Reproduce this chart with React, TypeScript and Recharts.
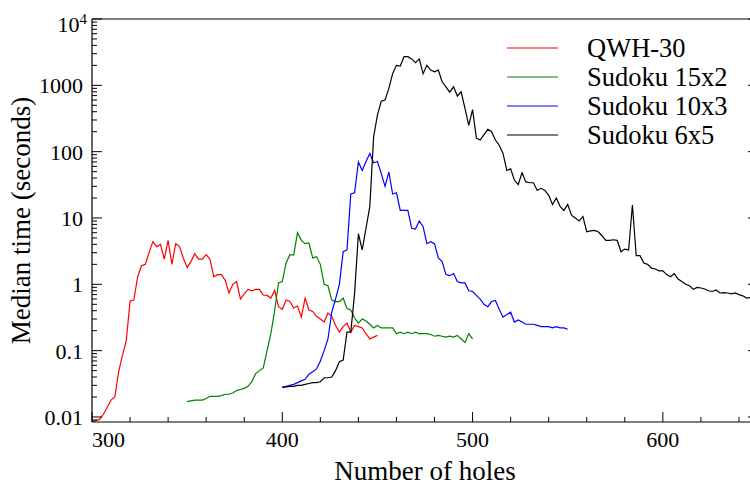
import { LineChart, Line, XAxis, YAxis } from "recharts";

// median solve times (seconds, log scale)
const qwhHoles = [
  300, 302, 304, 306, 308, 310, 312, 314, 316, 318, 320, 322, 324, 326, 328, 330, 332, 334, 336, 338,
  340, 342, 344, 346, 348, 350, 352, 354, 356, 358, 360, 362, 364, 366, 368, 370, 372, 374, 376, 378,
  380, 382, 384, 386, 388, 390, 392, 394, 396, 398, 400, 402, 404, 406, 408, 410, 412, 414, 416, 418,
  420, 422, 424, 426, 428, 430, 432, 434, 436, 438, 440, 442, 444, 446, 448, 450,
];
const qwhTime = [
  0.0085, 0.0088, 0.0092, 0.011, 0.014, 0.018, 0.02, 0.048, 0.085, 0.14,
  0.56, 0.58, 1.3, 1.9, 2.0, 3.0, 4.4, 3.7, 4.0, 2.4,
  4.6, 2.0, 4.1, 3.7, 2.5, 1.8, 2.2, 2.9, 2.4, 2.4,
  2.8, 2.4, 1.3, 1.4, 1.4, 1.15, 0.74, 1.0, 1.1, 0.6,
  0.72, 0.84, 0.8, 0.84, 0.84, 0.69, 0.68, 0.62, 0.81, 0.46,
  0.42, 0.58, 0.55, 0.44, 0.47, 0.32, 0.62, 0.41, 0.39, 0.33,
  0.3, 0.27, 0.37, 0.33, 0.24, 0.19, 0.23, 0.26, 0.19, 0.24,
  0.23, 0.22, 0.18, 0.15, 0.16, 0.17,
];

const sudoku15Holes = [
  350, 352, 354, 356, 358, 360, 362, 364, 366, 368, 370, 372, 374, 376, 378, 380, 382, 384, 386, 388,
  390, 392, 394, 396, 398, 400, 402, 404, 406, 408, 410, 412, 414, 416, 418, 420, 422, 424, 426, 428,
  430, 432, 434, 436, 438, 440, 442, 444, 446, 448, 450, 452, 454, 456, 458, 460, 462, 464, 466, 468,
  470, 472, 474, 476, 478, 480, 482, 484, 486, 488, 490, 492, 494, 496, 498, 500,
];
const sudoku15Time = [
  0.017, 0.0175, 0.018, 0.018, 0.018, 0.019, 0.0205, 0.0205, 0.0205, 0.021,
  0.022, 0.022, 0.023, 0.025, 0.026, 0.027, 0.029, 0.034, 0.045, 0.05,
  0.055, 0.1, 0.18, 0.4, 1.05, 1.1, 2.1, 2.8, 2.75, 6.0,
  4.6, 4.1, 4.2, 2.5, 2.6, 2.0, 1.0, 0.95, 0.58, 0.55,
  0.55, 0.62, 0.43, 0.41, 0.31, 0.26, 0.3, 0.28, 0.25, 0.22,
  0.24, 0.22, 0.22, 0.22, 0.22, 0.18, 0.19, 0.18, 0.19, 0.18,
  0.19, 0.18, 0.18, 0.18, 0.175, 0.165, 0.17, 0.165, 0.16, 0.165,
  0.16, 0.17, 0.15, 0.133, 0.18, 0.15,
];

const sudoku10Holes = [
  400, 402, 404, 406, 408, 410, 412, 414, 416, 418, 420, 422, 424, 426, 428, 430, 432, 434, 436, 438,
  440, 442, 444, 446, 448, 450, 452, 454, 456, 458, 460, 462, 464, 466, 468, 470, 472, 474, 476, 478,
  480, 482, 484, 486, 488, 490, 492, 494, 496, 498, 500, 502, 504, 506, 508, 510, 512, 514, 516, 518,
  520, 522, 524, 526, 528, 530, 532, 534, 536, 538, 540, 542, 544, 546, 548, 550,
];
const sudoku10Time = [
  0.028, 0.029, 0.03, 0.031, 0.033, 0.035, 0.037, 0.044, 0.048, 0.053,
  0.07, 0.1, 0.15, 0.38, 0.6, 1.0, 3.1, 3.3, 23, 24,
  70, 52, 71, 94, 68, 71, 47, 30, 49, 23,
  24, 13, 13, 13, 7, 6.8, 9, 7.4, 4.1, 4.4,
  4.1, 2.5, 2.2, 1.4, 1.35, 1.45, 1.1, 1.05, 1.05, 0.8,
  0.78, 0.68, 0.6, 0.5, 0.46, 0.55, 0.57, 0.42, 0.32, 0.35,
  0.38, 0.27, 0.29, 0.27, 0.25, 0.25, 0.25, 0.24, 0.23, 0.23,
  0.23, 0.22, 0.23, 0.22, 0.22, 0.21,
];

const sudoku6Holes = [
  400, 402, 404, 406, 408, 410, 412, 414, 416, 418, 420, 422, 424, 426, 428, 430, 432, 434, 436, 438,
  440, 442, 444, 446, 448, 450, 452, 454, 456, 458, 460, 462, 464, 466, 468, 470, 472, 474, 476, 478,
  480, 482, 484, 486, 488, 490, 492, 494, 496, 498, 500, 502, 504, 506, 508, 510, 512, 514, 516, 518,
  520, 522, 524, 526, 528, 530, 532, 534, 536, 538, 540, 542, 544, 546, 548, 550, 552, 554, 556, 558,
  560, 562, 564, 566, 568, 570, 572, 574, 576, 578, 580, 582, 584, 586, 588, 590, 592, 594, 596, 598,
  600, 602, 604, 606, 608, 610, 612, 614, 616, 618, 620, 622, 624, 626, 628, 630, 632, 634, 636, 638,
  640, 642, 644, 646,
];
const sudoku6Time = [
  0.028, 0.0285, 0.029, 0.029, 0.03, 0.03, 0.031, 0.032, 0.033, 0.033,
  0.034, 0.039, 0.039, 0.04, 0.05, 0.068, 0.072, 0.19, 0.19, 0.73,
  5.8, 3.3, 7.0, 15, 168, 355, 575, 600, 900, 1500,
  2000, 1950, 2700, 2700, 2500, 2200, 2500, 1500, 2000, 1700,
  1600, 1700, 1130, 950, 790, 950, 690, 800, 450, 250,
  430, 160, 150, 180, 217, 200, 150, 125, 94, 52,
  55, 37, 32, 48, 35, 34, 34, 26, 28, 26,
  22, 16, 20, 15, 13, 16, 11, 10, 9.0, 10.5,
  6.2, 6.4, 6.5, 6.2, 5.4, 4.6, 4.6, 4.7, 4.6, 3.1,
  3.4, 3.3, 15.7, 2.7, 2.7, 2.1, 2.0, 1.75, 1.7, 1.6,
  1.6, 1.4, 1.3, 1.45, 1.2, 1.1, 1.0, 0.95, 0.84, 0.9,
  0.88, 0.85, 0.8, 0.78, 0.82, 0.74, 0.75, 0.74, 0.72, 0.74,
  0.7, 0.67, 0.62, 0.63,
];

const xMajorTicks = [300, 400, 500, 600];
const xMinorTicks = [320, 340, 360, 380, 420, 440, 460, 480, 520, 540, 560, 580, 620, 640];
const yMajorTicks = [0.01, 0.1, 1, 10, 100, 1000, 10000];
const yMajorLabels = ["0.01", "0.1", "1", "10", "100", "1000", "10^4"];
const yMinorSteps = [2, 3, 4, 5, 6, 7, 8, 9];

const X_DOMAIN: [number, number] = [300, 650];
const Y_DOMAIN: [number, number] = [0.0084, 10000];

const FONT = "'Liberation Serif', 'Times New Roman', serif";
const MAJOR_LEN = 10;
const MINOR_LEN = 5;

const pairs = (holes: number[], times: number[]) =>
  holes.map((h, i) => ({ holes: h, time: times[i] }));

const series = [
  { name: "QWH-30", color: "#ff0000", data: pairs(qwhHoles, qwhTime) },
  { name: "Sudoku 15x2", color: "#008000", data: pairs(sudoku15Holes, sudoku15Time) },
  { name: "Sudoku 10x3", color: "#0000ff", data: pairs(sudoku10Holes, sudoku10Time) },
  { name: "Sudoku 6x5", color: "#000000", data: pairs(sudoku6Holes, sudoku6Time) },
];

const xTicks = [...xMajorTicks, ...xMinorTicks].sort((a, b) => a - b);
const yMinorTicks = [0.001, ...yMajorTicks]
  .flatMap((d) => yMinorSteps.map((m) => m * d))
  .filter((v) => v > Y_DOMAIN[0] && v < Y_DOMAIN[1]);
const yTicks = [...yMajorTicks, ...yMinorTicks].sort((a, b) => a - b);

const isMajorY = (v: number) => yMajorTicks.includes(v);

function BottomTick(p: any) {
  const v = p.payload.value;
  const major = xMajorTicks.includes(v);
  return (
    <g>
      <line x1={p.x} x2={p.x} y1={p.y} y2={p.y - (major ? MAJOR_LEN : MINOR_LEN)} stroke="#000" />
      {major && (
        <text
          x={p.x}
          y={p.y + 25}
          textAnchor={v === X_DOMAIN[0] ? "start" : "middle"}
          fontFamily={FONT}
          fontSize={22}
          fill="#000"
        >
          {v}
        </text>
      )}
    </g>
  );
}

function TopTick(p: any) {
  const major = xMajorTicks.includes(p.payload.value);
  return <line x1={p.x} x2={p.x} y1={p.y} y2={p.y + (major ? MAJOR_LEN : MINOR_LEN)} stroke="#000" />;
}

function LeftTick(p: any) {
  const v = p.payload.value;
  const major = isMajorY(v);
  const label = major ? yMajorLabels[yMajorTicks.indexOf(v)] : "";
  let text = null;
  if (label.includes("^")) {
    const [base, exp] = label.split("^");
    text = (
      <text x={p.x - 5} y={p.y + 13} textAnchor="end" fontFamily={FONT} fontSize={22} fill="#000">
        <tspan>{base}</tspan>
        <tspan dy={-8} fontSize={15}>
          {exp}
        </tspan>
      </text>
    );
  } else if (label) {
    text = (
      <text x={p.x - 9} y={p.y + 8} textAnchor="end" fontFamily={FONT} fontSize={22} fill="#000">
        {label}
      </text>
    );
  }
  return (
    <g>
      <line x1={p.x} x2={p.x + (major ? MAJOR_LEN : MINOR_LEN)} y1={p.y} y2={p.y} stroke="#000" />
      {text}
    </g>
  );
}

function RightTick(p: any) {
  const major = isMajorY(p.payload.value);
  return <line x1={p.x} x2={p.x - (major ? MAJOR_LEN : MINOR_LEN)} y1={p.y} y2={p.y} stroke="#000" />;
}

function XTitle(props: any) {
  const vb = props.viewBox || { x: 92, y: 422, width: 666, height: 64 };
  return (
    <text
      x={vb.x + vb.width / 2}
      y={vb.y + vb.height - 6}
      textAnchor="middle"
      fontFamily={FONT}
      fontSize={27}
      fill="#000"
    >
      Number of holes
    </text>
  );
}

function YTitle(props: any) {
  const vb = props.viewBox || { x: 0, y: 19, width: 92, height: 403 };
  const cx = vb.x + 30;
  const cy = vb.y + vb.height / 2;
  return (
    <text
      x={cx}
      y={cy}
      transform={`rotate(-90 ${cx} ${cy})`}
      textAnchor="middle"
      fontFamily={FONT}
      fontSize={27}
      fill="#000"
    >
      Median time (seconds)
    </text>
  );
}

const axisLine = { stroke: "#000", strokeWidth: 1.2 };

export default function App() {
  return (
    <div
      style={{
        position: "absolute",
        left: 0,
        top: 0,
        width: 750,
        height: 486,
        overflow: "hidden",
        background: "#fff",
      }}
    >
      <LineChart width={770} height={486} margin={{ top: 0, right: 0, bottom: 0, left: 0 }}>
        <XAxis
          xAxisId="bottom"
          dataKey="holes"
          type="number"
          domain={X_DOMAIN}
          allowDataOverflow
          ticks={xTicks}
          interval={0}
          tickSize={0}
          tickMargin={0}
          tickLine={false}
          tick={BottomTick}
          axisLine={axisLine}
          height={64}
          label={<XTitle />}
        />
        <XAxis
          xAxisId="top"
          orientation="top"
          type="number"
          domain={X_DOMAIN}
          allowDataOverflow
          ticks={xTicks}
          interval={0}
          tickSize={0}
          tickMargin={0}
          tickLine={false}
          tick={TopTick}
          axisLine={axisLine}
          height={19}
        />
        <YAxis
          yAxisId="left"
          type="number"
          scale="log"
          domain={Y_DOMAIN}
          allowDataOverflow
          ticks={yTicks}
          interval={0}
          tickSize={0}
          tickMargin={0}
          tickLine={false}
          tick={LeftTick}
          axisLine={axisLine}
          width={92}
          label={<YTitle />}
        />
        <YAxis
          yAxisId="right"
          orientation="right"
          type="number"
          scale="log"
          domain={Y_DOMAIN}
          allowDataOverflow
          ticks={yTicks}
          interval={0}
          tickSize={0}
          tickMargin={0}
          tickLine={false}
          tick={RightTick}
          axisLine={axisLine}
          width={12}
        />
        {series.map((s) => (
          <Line
            key={s.name}
            xAxisId="bottom"
            yAxisId="left"
            data={s.data}
            dataKey="time"
            name={s.name}
            type="linear"
            stroke={s.color}
            strokeWidth={1.2}
            dot={false}
            activeDot={false}
            isAnimationActive={false}
          />
        ))}
      </LineChart>
      <svg
        width={750}
        height={486}
        style={{ position: "absolute", left: 0, top: 0, pointerEvents: "none" }}
      >
        {series.map((s, i) => (
          <g key={s.name}>
            <line x1={507} x2={558} y1={48 + i * 29} y2={48 + i * 29} stroke={s.color} strokeWidth={1.2} />
            <text x={587} y={48 + i * 29 + 9} fontFamily={FONT} fontSize={26.5} fill="#000">
              {s.name}
            </text>
          </g>
        ))}
      </svg>
    </div>
  );
}
